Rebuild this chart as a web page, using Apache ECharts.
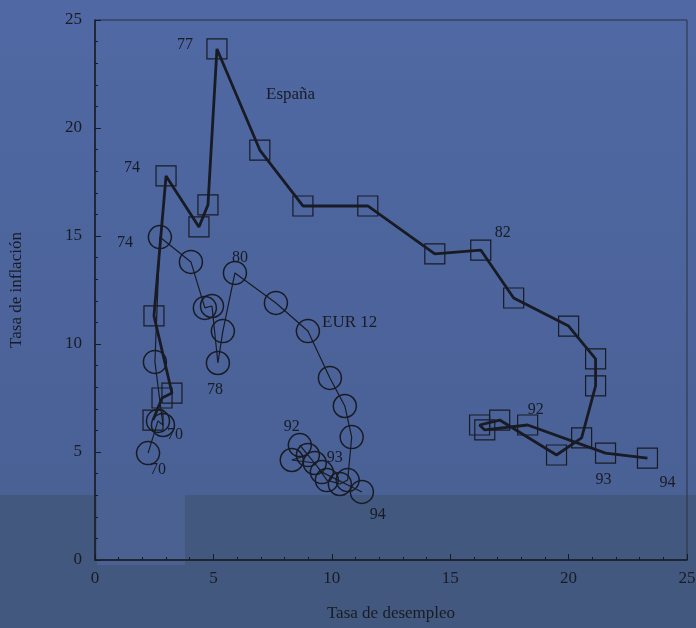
<!DOCTYPE html>
<html>
<head>
<meta charset="utf-8">
<script src="https://cdn.jsdelivr.net/npm/echarts@6/dist/echarts.min.js"></script>
<style>
  html, body { margin: 0; padding: 0; }
  #chart { width: 696px; height: 628px; }
</style>
</head>
<body>
<div id="chart"></div>
<script>
// Years of the two trajectories
const years = [70,71,72,73,74,75,76,77,78,79,80,81,82,83,84,85,86,87,88,89,90,91,92,93,94];

// España: unemployment rate and inflation rate
const espanaParo = [2.45,2.83,3.25,2.49,3.0,4.39,4.77,5.15,6.96,8.78,11.52,14.35,16.29,17.68,20.0,21.14,21.14,20.55,19.49,17.09,16.24,16.46,18.27,21.56,23.33];
const espanaInfl = [6.48,7.5,7.73,11.3,17.78,15.42,16.44,23.66,18.98,16.39,16.39,14.17,14.35,12.13,10.83,9.31,8.06,5.65,4.86,6.48,6.25,6.02,6.25,4.95,4.72];

// EUR 12: unemployment rate and inflation rate
const eurParo = [2.24,2.66,2.87,2.53,2.74,4.05,4.64,4.94,5.19,5.4,5.91,7.64,8.99,9.92,10.55,10.84,10.67,10.34,9.79,9.28,8.31,8.99,8.65,9.58,11.27];
const eurInfl = [4.95,6.44,6.25,9.17,14.95,13.8,11.67,11.76,9.12,10.6,13.29,11.9,10.6,8.43,7.13,5.69,3.7,3.52,3.7,4.49,4.63,4.86,5.32,4.07,3.15];

// Years that carry a label on each curve
const espanaLabeled = [70,74,77,82,92,93,94];
const eurLabeled = [70,74,78,80,92,93,94];

const axisTicks = [0,5,10,15,20,25];

// label offsets (px) per labelled year
const espanaOffsets = {70:[22,15],74:[-34,-8],77:[-32,-4],82:[22,-17],92:[8,-15],93:[-2,27],94:[20,25]};
const eurOffsets = {70:[10,17],74:[-35,6],78:[-3,27],80:[5,-15],92:[-8,-18],93:[13,-14],94:[16,23]};

const ink = '#181b24';
const serif = '"Liberation Serif", "DejaVu Serif", serif';

function buildData(xs, ys, labeled, offsets) {
  return years.map((yr, i) => {
    const item = { value: [xs[i], ys[i]] };
    if (labeled.includes(yr)) {
      item.label = {
        show: true,
        formatter: String(yr),
        position: 'inside',
        offset: offsets[yr],
        color: ink,
        fontFamily: serif,
        fontSize: 16
      };
    }
    return item;
  });
}

const chart = echarts.init(document.getElementById('chart'));

chart.setOption({
  animation: false,
  backgroundColor: {
    type: 'linear', x: 0, y: 0, x2: 0, y2: 1,
    colorStops: [
      { offset: 0, color: '#5069a4' },
      { offset: 0.78, color: '#4a6196' },
      { offset: 1, color: '#435984' }
    ]
  },
  graphic: [
    { type: 'rect', z: -10, silent: true, shape: { x: 0, y: 495, width: 696, height: 133 }, style: { fill: '#42587f' } },
    { type: 'rect', z: -9, silent: true, shape: { x: 97, y: 495, width: 88, height: 70 }, style: { fill: '#4a6191' } },
    { type: 'text', left: 266, top: 86, style: { text: 'España', font: '17px ' + serif, fill: ink } },
    { type: 'text', left: 322, top: 314, style: { text: 'EUR 12', font: '17px ' + serif, fill: ink } }
  ],
  grid: {
    left: 95, right: 9, top: 20, bottom: 68,
    outerBoundsMode: 'none',
    containLabel: false,
    show: true, borderColor: '#2a3142', borderWidth: 1
  },
  xAxis: {
    type: 'value', min: 0, max: 25, interval: 5,
    name: 'Tasa de desempleo', nameLocation: 'middle', nameGap: 45,
    nameTextStyle: { fontFamily: serif, fontSize: 17, color: ink },
    axisLine: { show: true, lineStyle: { color: ink, width: 1.5 } },
    axisTick: { show: true, inside: true, length: 6, lineStyle: { color: ink } },
    minorTick: { show: true, splitNumber: 5, length: 3, lineStyle: { color: ink } },
    splitLine: { show: false },
    axisLabel: { fontFamily: serif, fontSize: 17, color: ink, margin: 10,
      formatter: v => axisTicks.includes(v) ? String(v) : '' }
  },
  yAxis: {
    type: 'value', min: 0, max: 25, interval: 5,
    name: 'Tasa de inflación', nameLocation: 'middle', nameGap: 70,
    nameTextStyle: { fontFamily: serif, fontSize: 17, color: ink },
    axisLine: { show: true, lineStyle: { color: ink, width: 1.5 } },
    axisTick: { show: true, inside: true, length: 6, lineStyle: { color: ink } },
    minorTick: { show: true, splitNumber: 5, length: 3, lineStyle: { color: ink } },
    splitLine: { show: false },
    axisLabel: { fontFamily: serif, fontSize: 17, color: ink, margin: 13,
      formatter: v => axisTicks.includes(v) ? String(v) : '' }
  },
  series: [
    {
      name: 'España',
      type: 'line',
      data: buildData(espanaParo, espanaInfl, espanaLabeled, espanaOffsets),
      symbol: 'rect',
      symbolSize: 20,
      showAllSymbol: true,
      lineStyle: { color: ink, width: 2.8 },
      itemStyle: { color: 'rgba(0,0,0,0)', borderColor: ink, borderWidth: 1.2 },
      z: 3
    },
    {
      name: 'EUR 12',
      type: 'line',
      data: buildData(eurParo, eurInfl, eurLabeled, eurOffsets),
      symbol: 'circle',
      symbolSize: 23,
      showAllSymbol: true,
      lineStyle: { color: ink, width: 1.2 },
      itemStyle: { color: 'rgba(0,0,0,0)', borderColor: ink, borderWidth: 1.5 },
      z: 2
    }
  ]
});
</script>
</body>
</html>
